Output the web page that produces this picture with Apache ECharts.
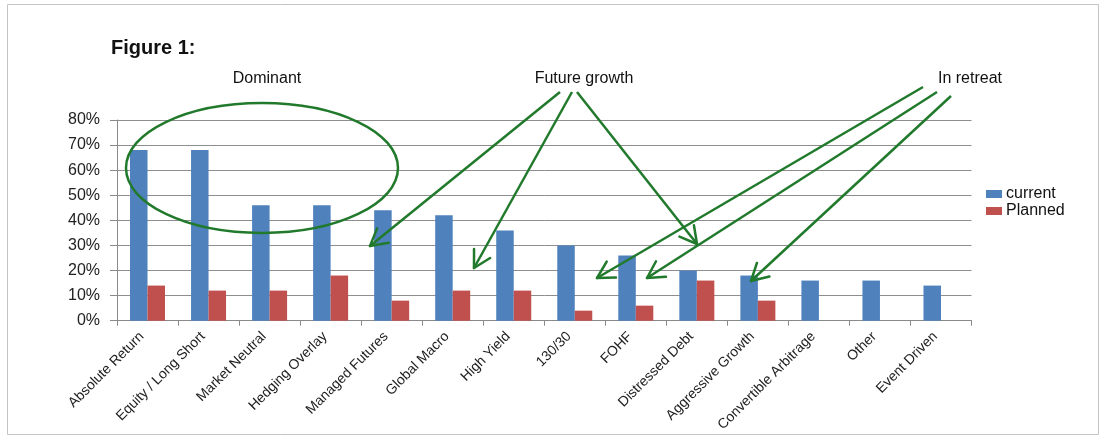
<!DOCTYPE html>
<html><head><meta charset="utf-8">
<script src="https://cdn.jsdelivr.net/npm/echarts@6/dist/echarts.min.js"></script>
<style>html,body{margin:0;padding:0;background:#fff}#c{width:1107px;height:436px}</style>
</head><body><div id="c"></div>
<script>
const categories = ["Absolute Return","Equity / Long Short","Market Neutral","Hedging Overlay","Managed Futures","Global Macro","High Yield","130/30","FOHF","Distressed Debt","Aggressive Growth","Convertible Arbitrage","Other","Event Driven"];
const current = [68,68,46,46,44,42,36,30,26,20,18,16,16,14];
const planned = [14,12,12,18,8,12,12,4,6,16,8,null,null,null];
const yTicks = [0,10,20,30,40,50,60,70,80];
const annotations = ["Dominant","Future growth","In retreat"];

const GREEN = '#217a2c';
const arrows = [
  [[560,92],[370,246]],
  [[572,92],[474,268]],
  [[577,92],[697,244]],
  [[923,87],[597,278]],
  [[937,92],[647,278]],
  [[951,96],[751,281]]
];
const graphics = [];
graphics.push({type:'rect', shape:{x:7.5,y:4.5,width:1091,height:430}, style:{fill:'none',stroke:'#c4c4c4',lineWidth:1}, silent:true});
graphics.push({type:'text', left:111, top:38, style:{text:'Figure 1:', font:'bold 20px "Liberation Sans", Arial, sans-serif', fill:'#111'}});
const annPos = [[267,79],[584,79],[970,79]];
annotations.forEach((t,i)=>{
  graphics.push({type:'text', x:annPos[i][0], y:annPos[i][1], style:{text:t, font:'16px "Liberation Sans", Arial, sans-serif', fill:'#111', align:'center', verticalAlign:'middle'}});
});
graphics.push({type:'ellipse', shape:{cx:262,cy:168,rx:136,ry:65}, style:{fill:'none',stroke:GREEN,lineWidth:2.5}, z:100});
arrows.forEach(([s,t])=>{
  graphics.push({type:'line', shape:{x1:s[0],y1:s[1],x2:t[0],y2:t[1]}, style:{stroke:GREEN,lineWidth:2.5}, z:100});
  const ang = Math.atan2(s[1]-t[1], s[0]-t[0]);
  const L = 19, a = 29*Math.PI/180;
  [ang-a, ang+a].forEach(b=>{
    graphics.push({type:'line', shape:{x1:t[0],y1:t[1],x2:t[0]+L*Math.cos(b),y2:t[1]+L*Math.sin(b)}, style:{stroke:GREEN,lineWidth:2.5,lineCap:'round'}, z:100});
  });
});

const chart = echarts.init(document.getElementById('c'), null, {renderer:'canvas'});
chart.setOption({
  animation:false,
  backgroundColor:'#fff',
  textStyle:{fontFamily:'"Liberation Sans", Arial, sans-serif'},
  grid:{left:117, right:135.5, top:120, bottom:115.3, containLabel:false},
  legend:{
    orient:'vertical', left:981, top:181, itemWidth:16, itemHeight:8, itemGap:1,
    icon:'rect', textStyle:{fontSize:16, color:'#111', padding:[0,0,0,-1]},
    data:['current','Planned']
  },
  xAxis:{
    type:'category', data:categories,
    axisLine:{lineStyle:{color:'#8a8a8a'}},
    axisTick:{show:true, length:5, lineStyle:{color:'#8a8a8a'}},
    axisLabel:{interval:0, rotate:45, fontSize:14, color:'#222', margin:8, padding:[0,8,0,0]}
  },
  yAxis:{
    type:'value', min:yTicks[0], max:yTicks[yTicks.length-1], interval:10,
    axisLine:{show:true, lineStyle:{color:'#8a8a8a'}},
    axisTick:{show:true, length:7, lineStyle:{color:'#8a8a8a'}},
    splitLine:{lineStyle:{color:'#8e8e8e'}},
    axisLabel:{formatter:'{value}%', fontSize:16, color:'#222', margin:17}
  },
  series:[
    {name:'current', type:'bar', data:current, barWidth:17.5, barGap:'0%', itemStyle:{color:'#4f81bd'}},
    {name:'Planned', type:'bar', data:planned, barWidth:17.5, barGap:'0%', itemStyle:{color:'#c0504d'}}
  ],
  graphic:graphics
});
</script></body></html>
